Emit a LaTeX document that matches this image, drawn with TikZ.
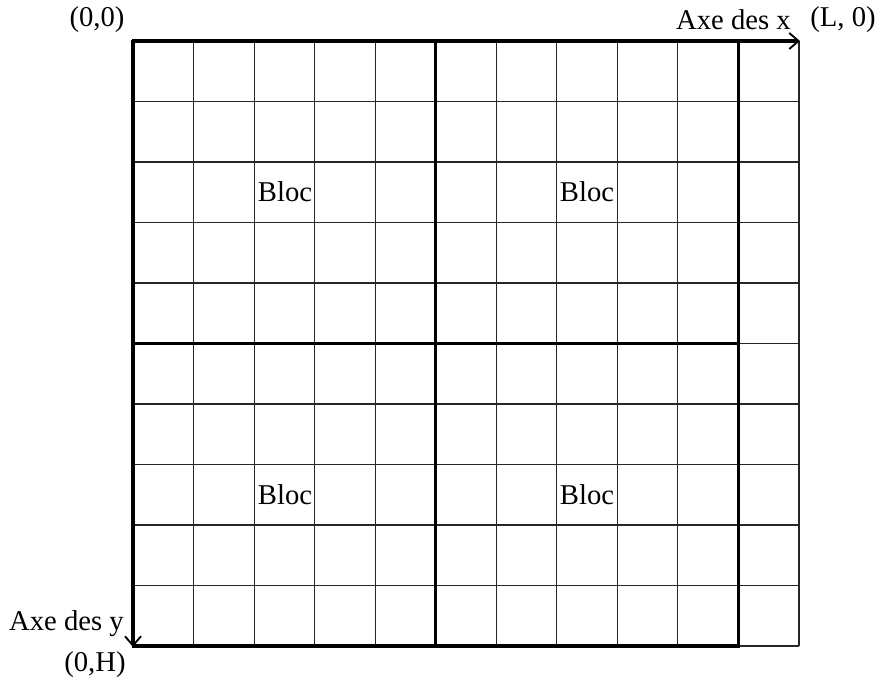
\documentclass[tikz,border=0pt]{standalone}
\usepackage{fontspec}
\setmainfont{Liberation Serif}
\usetikzlibrary{arrows.meta}
\begin{document}
\begin{tikzpicture}[x=0.75pt,y=-0.75pt,
  thin grid/.style={line width=0.8pt,black!85},
  thick grid/.style={line width=2.6pt,black},
  axis/.style={line width=2.6pt,black,-{Straight Barb[length=7pt,width=12pt,line width=1.4pt]}},
  lbl/.style={font=\fontsize{21.5}{25}\selectfont,inner sep=0pt},
  blk/.style={font=\fontsize{21.5}{25}\selectfont,inner sep=0pt}]
\useasboundingbox (0,0) rectangle (882,682);
\def\cw{60.545}
\def\rh{60.5}
% thin grid lines
\foreach \i in {1,...,11} {
  \draw[thin grid] ({133+\i*\cw},41) -- ({133+\i*\cw},646);
}
\foreach \j in {1,...,10} {
  \draw[thin grid] (133,{41+\j*\rh}) -- (799,{41+\j*\rh});
}
% thick block borders
\draw[thick grid] ({133+5*\cw},41) -- ({133+5*\cw},646);
\draw[thick grid] ({133+10*\cw},41) -- ({133+10*\cw},647.3);
\draw[thick grid] (133,{41+5*\rh}) -- ({133+10*\cw},{41+5*\rh});
\draw[thick grid] (131.7,646) -- ({133+10*\cw+1.3},646);
% axes
\coordinate (o) at (133,41);
\coordinate (xe) at (800,41);
\coordinate (ye) at (133,647);
\draw[axis] (131.7,41) -- (xe);
\draw[axis] (133,39.7) -- (ye);
% labels
\node[lbl] (origin) at (97,20) {(0,0)};
\node[lbl,anchor=east] (ax) at (791,20) {Axe des x};
\node[lbl] (L0) at (843,20) {(L, 0)};
\node[lbl,anchor=east] (ay) at (124,624) {Axe des y};
\node[lbl] (H) at (95,665) {(0,H)};
% blocks
\node[blk] (b1) at (285,192) {Bloc};
\node[blk] (b2) at (587,192) {Bloc};
\node[blk] (b3) at (285,495) {Bloc};
\node[blk] (b4) at (587,495) {Bloc};
\end{tikzpicture}
\end{document}
